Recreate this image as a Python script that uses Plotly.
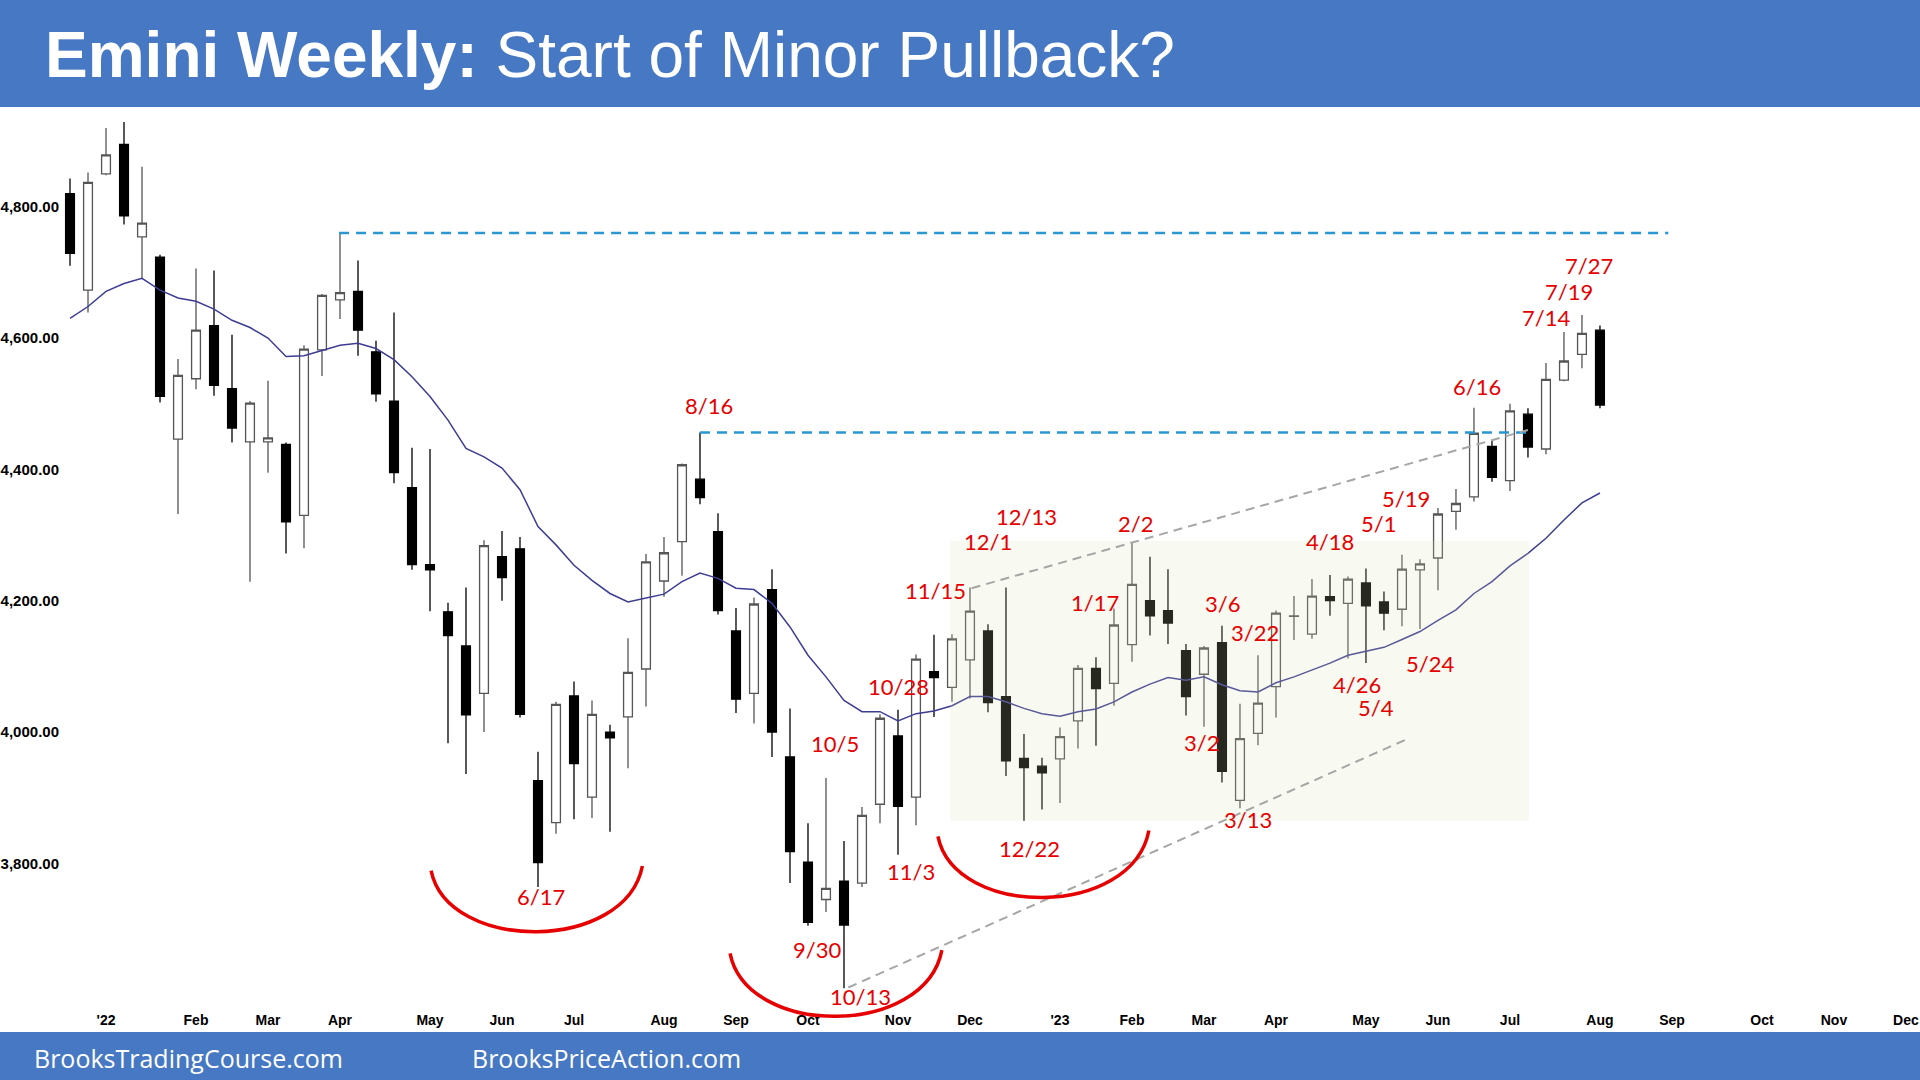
import plotly.graph_objects as go

# ---------------- data (weekly bars, index 0 = mid-Dec 2021) ----------------
weeks = list(range(86))
opens = [4820, 4673, 4850, 4895, 4754, 4723, 4446, 4538, 4619, 4523,
         4442, 4442, 4438, 4330, 4582, 4658, 4671, 4579, 4504, 4372,
         4255, 4183, 4131, 4059, 4267, 4279, 3926, 3862, 4055, 3901,
         4000, 4023, 4096, 4230, 4290, 4385, 4305, 4154, 4059, 4217,
         3962, 3802, 3745, 3773, 3770, 3890, 3994, 3901, 4092, 4068,
         4110, 4154, 4054, 3960, 3948, 3959, 4017, 4097, 4074, 4133,
         4200, 4185, 4124, 4088, 4136, 3896, 3998, 4069, 4176, 4149,
         4206, 4196, 4227, 4198, 4187, 4247, 4265, 4336, 4358, 4435,
         4383, 4484, 4431, 4536, 4575, 4612]
highs = [4843, 4852, 4920, 4929, 4861, 4727, 4568, 4706, 4703, 4605,
         4504, 4535, 4441, 4589, 4667, 4760, 4718, 4596, 4639, 4433,
         4431, 4197, 4220, 4292, 4306, 4297, 3970, 4046, 4077, 4048,
         4011, 4143, 4271, 4297, 4409, 4456, 4333, 4189, 4205, 4248,
         4036, 3861, 3930, 3834, 3886, 4027, 4034, 4118, 4148, 4149,
         4220, 4164, 4220, 3997, 3961, 4007, 4102, 4114, 4188, 4289,
         4267, 4248, 4134, 4131, 4162, 4043, 4117, 4185, 4207, 4233,
         4239, 4237, 4249, 4214, 4270, 4263, 4341, 4370, 4494, 4444,
         4500, 4493, 4562, 4609, 4635, 4619]
lows = [4710, 4639, 4848, 4773, 4691, 4502, 4332, 4522, 4512, 4441,
        4229, 4395, 4272, 4280, 4542, 4629, 4573, 4503, 4379, 4247,
        4184, 3983, 3936, 4000, 4200, 4022, 3764, 3845, 3867, 3869,
        3848, 3945, 4039, 4206, 4238, 4347, 4179, 4029, 4013, 3962,
        3770, 3705, 3726, 3610, 3764, 3861, 3813, 3858, 4023, 4046,
        4051, 4030, 3933, 3865, 3882, 3892, 3975, 3979, 4040, 4107,
        4147, 4134, 4025, 4008, 3923, 3884, 3980, 4022, 4140, 4142,
        4177, 4112, 4105, 4155, 4161, 4157, 4216, 4308, 4351, 4381,
        4367, 4418, 4423, 4534, 4554, 4493]
closes = [4729, 4837, 4879, 4786, 4775, 4511, 4543, 4612, 4528, 4463,
          4501, 4448, 4320, 4583, 4665, 4669, 4612, 4515, 4395, 4255,
          4247, 4147, 4026, 4284, 4235, 4027, 3801, 4042, 3952, 4027,
          3991, 4091, 4259, 4273, 4407, 4357, 4185, 4050, 4195, 4000,
          3818, 3710, 3762, 3706, 3873, 4021, 3887, 4111, 4083, 4142,
          4184, 4045, 3956, 3946, 3938, 3993, 4097, 4066, 4163, 4225,
          4177, 4166, 4054, 4128, 3940, 3990, 4044, 4181, 4177, 4207,
          4200, 4233, 4192, 4181, 4248, 4256, 4332, 4348, 4455, 4388,
          4489, 4434, 4537, 4565, 4607, 4498]
ma20 = [4630, 4648, 4671, 4683, 4691, 4673, 4661, 4656, 4644, 4627,
        4616, 4600, 4572, 4573, 4581, 4589, 4592, 4584, 4567, 4541,
        4511, 4475, 4432, 4419, 4402, 4369, 4313, 4285, 4254, 4231,
        4211, 4198, 4204, 4210, 4229, 4242, 4234, 4219, 4217, 4196,
        4160, 4117, 4084, 4048, 4031, 4031, 4017, 4028, 4032, 4040,
        4054, 4054, 4046, 4036, 4028, 4024, 4031, 4035, 4046, 4061,
        4073, 4083, 4079, 4084, 4072, 4063, 4061, 4075, 4084, 4094,
        4105, 4117, 4123, 4129, 4141, 4153, 4170, 4186, 4211, 4229,
        4253, 4272, 4295, 4323, 4349, 4364]

tick_weeks = [2, 7, 11, 15, 20, 24, 28, 33, 37, 41, 46, 50,
              55, 59, 63, 67, 72, 76, 80, 85, 89, 94, 98, 102]
tick_labels = ["'22", "Feb", "Mar", "Apr", "May", "Jun", "Jul", "Aug", "Sep",
               "Oct", "Nov", "Dec", "'23", "Feb", "Mar", "Apr", "May", "Jun",
               "Jul", "Aug", "Sep", "Oct", "Nov", "Dec"]
price_ticks = [3800, 4000, 4200, 4400, 4600, 4800]

# labelled swing points: (text, week position, price)
date_labels = [("8/16", 35.5, 4497), ("6/17", 26.17, 3749), ("9/30", 41.48, 3669),
               ("10/13", 43.89, 3597), ("10/5", 42.5, 3983), ("10/28", 46.02, 4070),
               ("11/3", 46.71, 3787), ("11/15", 48.06, 4216), ("12/1", 51.02, 4290),
               ("12/13", 53.15, 4328), ("2/2", 59.22, 4318), ("1/17", 56.94, 4198),
               ("3/6", 64.02, 4196), ("3/22", 65.83, 4151), ("3/2", 62.87, 3984),
               ("3/13", 65.46, 3867), ("12/22", 53.29, 3823), ("4/18", 70.0, 4290),
               ("5/1", 72.68, 4317), ("5/19", 74.2, 4356), ("4/26", 71.52, 4072),
               ("5/4", 72.54, 4038), ("5/24", 75.56, 4104), ("6/16", 78.15, 4526),
               ("7/14", 82.0, 4632), ("7/19", 83.29, 4671), ("7/27", 84.39, 4711)]

# reference levels / trend lines (week, price)
level_high = 4760
level_816 = 4456
channel_top = [(50.09, 4219), (81.0, 4460)]
channel_bot = [(43.24, 3611), (74.26, 3989)]
range_box = dict(x0=48.9, x1=81.05, y0=3865, y1=4291)
# bottoms highlighted with arcs: (left x, left y, right x, right y, bottom y)
arcs = [(20.06, 3789, 31.8, 3796, 3696),
        (36.67, 3663, 48.44, 3668, 3567),
        (48.22, 3841, 59.94, 3850, 3748)]

# ---------------- figure ----------------
BLUE = "#4678C4"
RED = "#E60000"
NARROW = "Liberation Sans Narrow, Arial Narrow, Liberation Sans, Arial"
XR = [-0.556, 102.78]
YR = [3576.7, 4950.3]


def to_paper(x, y):
    # arcs are drawn in paper space so they are not clipped at the plot edge
    return ((x - XR[0]) / (XR[1] - XR[0]), (y - YR[0]) / (YR[1] - YR[0]))


fig = go.Figure()
fig.add_trace(go.Candlestick(
    x=weeks, open=opens, high=highs, low=lows, close=closes,
    increasing=dict(fillcolor="white", line=dict(color="#555555", width=1.3)),
    decreasing=dict(fillcolor="black", line=dict(color="black", width=1.3)),
    whiskerwidth=0, showlegend=False, hoverinfo="skip"))
fig.add_trace(go.Scatter(x=weeks, y=ma20, mode="lines",
                         line=dict(color="#3D3D94", width=1.5),
                         showlegend=False, hoverinfo="skip"))

shapes = []
# shaded trading range
shapes.append(dict(type="rect", xref="x", yref="y", layer="above",
                   fillcolor="rgba(215,220,170,0.18)", line=dict(width=0), **range_box))
# horizontal blue dashed levels
shapes.append(dict(type="line", xref="x", yref="y", x0=14.95, x1=88.8,
                   y0=level_high, y1=level_high,
                   line=dict(color="#2A97D2", width=2.5, dash="10px,7px")))
shapes.append(dict(type="line", xref="x", yref="y", x0=35.0, x1=81.0,
                   y0=level_816, y1=level_816,
                   line=dict(color="#2A97D2", width=2.5, dash="10px,7px")))
# channel lines
for (a, b) in (channel_top, channel_bot):
    shapes.append(dict(type="line", xref="x", yref="y", x0=a[0], y0=a[1], x1=b[0], y1=b[1],
                       line=dict(color="#A6A6A6", width=2, dash="9px,6px")))
# red arcs
for (xl, yl, xr, yr, yb) in arcs:
    w = xr - xl
    yc = (8 * yb - yl - yr) / 6.0
    p0 = to_paper(xl, yl)
    p1 = to_paper(xl + 0.08 * w, yc)
    p2 = to_paper(xr - 0.08 * w, yc)
    p3 = to_paper(xr, yr)
    path = (f"M {p0[0]:.5f},{p0[1]:.5f} C {p1[0]:.5f},{p1[1]:.5f} "
            f"{p2[0]:.5f},{p2[1]:.5f} {p3[0]:.5f},{p3[1]:.5f}")
    shapes.append(dict(type="path", xref="paper", yref="paper", path=path,
                       line=dict(color=RED, width=3.5)))
# title bar and footer bar
shapes.append(dict(type="rect", xref="paper", yref="paper", x0=-0.05, x1=1.02,
                   y0=1.0011, y1=1.14, fillcolor=BLUE, line=dict(width=0), layer="above"))
shapes.append(dict(type="rect", xref="paper", yref="paper", x0=-0.05, x1=1.02,
                   y0=-0.10, y1=-0.0244, fillcolor=BLUE, line=dict(width=0), layer="above"))

annotations = []
for (t, x, y) in date_labels:
    annotations.append(dict(text=t, x=x, y=y, xref="x", yref="y", showarrow=False,
                            xanchor="center", yanchor="middle",
                            font=dict(family="Lato, Open Sans, sans-serif", size=22, color=RED)))
annotations.append(dict(text="<b>Emini Weekly:</b> Start of Minor Pullback?",
                        x=-0.0093, y=1.0588, xref="paper", yref="paper", showarrow=False,
                        xanchor="left", yanchor="middle",
                        font=dict(family="Liberation Sans, Arial", size=64, color="white")))
annotations.append(dict(text="BrooksTradingCourse.com", x=-0.0150, y=-0.0532,
                        xref="paper", yref="paper", showarrow=False,
                        xanchor="left", yanchor="middle",
                        font=dict(family="Open Sans, sans-serif", size=25, color="white")))
annotations.append(dict(text="BrooksPriceAction.com", x=0.2205, y=-0.0532,
                        xref="paper", yref="paper", showarrow=False,
                        xanchor="left", yanchor="middle",
                        font=dict(family="Open Sans, sans-serif", size=25, color="white")))

fig.update_layout(
    width=1920, height=1080,
    margin=dict(l=60, r=0, t=108, b=70, pad=0),
    paper_bgcolor="white", plot_bgcolor="white",
    shapes=shapes, annotations=annotations, showlegend=False,
    xaxis=dict(range=XR, tickmode="array", tickvals=tick_weeks,
               ticktext=tick_labels, showgrid=False, zeroline=False, showline=False,
               ticks="", rangeslider=dict(visible=False), fixedrange=True,
               tickfont=dict(family=NARROW, size=14, color="black", weight="bold")),
    yaxis=dict(range=YR, tickmode="array", tickvals=price_ticks,
               tickformat=",.2f", showgrid=False, zeroline=False, showline=False,
               ticks="", fixedrange=True,
               tickfont=dict(family=NARROW, size=15, color="black", weight="bold")),
)

fig.write_html("out.html")
